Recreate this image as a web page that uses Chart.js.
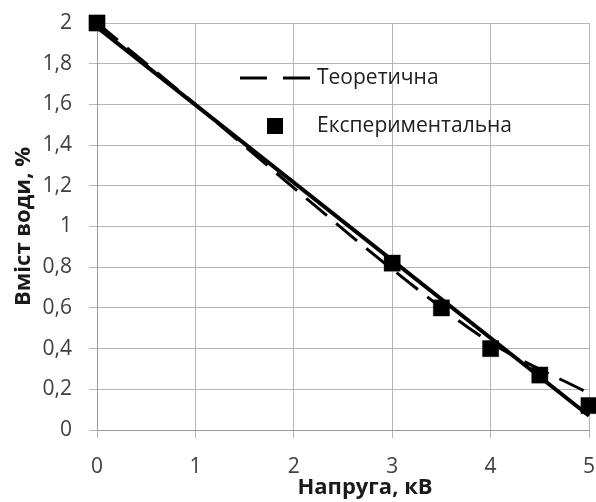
<!DOCTYPE html>
<html>
<head>
<meta charset="utf-8">
<script src="https://cdn.jsdelivr.net/npm/chart.js@4.4.0/dist/chart.umd.min.js"></script>
<style>
  html, body { margin: 0; padding: 0; background: #ffffff; }
  #chart { display: block; }
</style>
</head>
<body>
<canvas id="chart" width="596" height="502"></canvas>
<script>
// data
const expVoltage = [0, 3, 3.5, 4, 4.5, 5];
const expWater = [2.0, 0.82, 0.6, 0.4, 0.27, 0.12];

const theoryVoltage = [0, 1, 2, 3, 4, 5];
const theoryWater = [2.0, 1.6, 1.19, 0.79, 0.43, 0.18];

const trendVoltage = [0, 5];
const trendWater = [1.98, 0.07];

const xTickLabels = ['0', '1', '2', '3', '4', '5'];
const yTickLabels = ['0', '0,2', '0,4', '0,6', '0,8', '1', '1,2', '1,4', '1,6', '1,8', '2'];

const legendNames = ['Теоретична', 'Експериментальна'];
const xTitle = 'Напруга, кВ';
const yTitle = 'Вміст води, %';

const toPoints = (xs, ys) => xs.map((x, i) => ({ x: x, y: ys[i] }));

Chart.defaults.font.family = "'Open Sans', sans-serif";
Chart.defaults.color = '#404040';

const whiteBg = {
    id: 'whiteBg',
    beforeDraw(chart) {
        const ctx = chart.ctx;
        ctx.save();
        ctx.fillStyle = '#ffffff';
        ctx.fillRect(0, 0, chart.width, chart.height);
        ctx.restore();
    }
};

// Excel-like legend inside the plot area, plus the x title (it sits a bit right of centre)
const innerLegend = {
    id: 'innerLegend',
    afterDatasetsDraw(chart) {
        const ctx = chart.ctx;
        const area = chart.chartArea;
        const x0 = area.left + 143;
        const y1 = area.top + 55;
        const y2 = area.top + 103;
        ctx.save();
        ctx.strokeStyle = '#000000';
        ctx.lineWidth = 3;
        ctx.setLineDash([27, 16]);
        ctx.beginPath();
        ctx.moveTo(x0, y1);
        ctx.lineTo(x0 + 72, y1);
        ctx.stroke();
        ctx.setLineDash([]);
        ctx.fillStyle = '#000000';
        ctx.fillRect(x0 + 27, y2 - 8, 16, 16);
        ctx.fillStyle = '#202020';
        ctx.font = "21px 'Open Sans', sans-serif";
        ctx.textBaseline = 'middle';
        ctx.textAlign = 'left';
        ctx.fillText(legendNames[0], x0 + 77, y1);
        ctx.fillText(legendNames[1], x0 + 77, y2);

        ctx.fillStyle = '#1a1a1a';
        ctx.font = "bold 22px 'Open Sans', sans-serif";
        ctx.textAlign = 'center';
        ctx.fillText(xTitle, 365, chart.height - 14);
        ctx.restore();
    }
};

const noPad = (scale) => {
    scale.paddingLeft = 0;
    scale.paddingRight = 0;
    scale.paddingTop = 0;
    scale.paddingBottom = 0;
};

const config = {
    type: 'scatter',
    data: {
        datasets: [
            {
                label: legendNames[1],
                data: toPoints(expVoltage, expWater),
                pointStyle: 'rect',
                pointRadius: 11.5,
                pointHoverRadius: 11.5,
                backgroundColor: '#000000',
                borderColor: 'rgba(0,0,0,0.35)',
                borderWidth: 1,
                showLine: false,
                clip: false,
                order: 0
            },
            {
                label: 'trend',
                data: toPoints(trendVoltage, trendWater),
                showLine: true,
                borderColor: '#000000',
                borderWidth: 4,
                pointRadius: 0,
                clip: false,
                order: 1
            },
            {
                label: legendNames[0],
                data: toPoints(theoryVoltage, theoryWater),
                showLine: true,
                borderColor: '#000000',
                borderWidth: 3,
                borderDash: [27, 12],
                cubicInterpolationMode: 'monotone',
                pointRadius: 0,
                clip: false,
                order: 2
            }
        ]
    },
    options: {
        responsive: false,
        animation: false,
        devicePixelRatio: 1,
        layout: {
            autoPadding: false,
            padding: { top: 23, right: 7, left: 0, bottom: 0 }
        },
        scales: {
            x: {
                type: 'linear',
                min: 0,
                max: 5,
                afterFit: (scale) => { scale.height = 72; noPad(scale); },
                ticks: {
                    stepSize: 1,
                    padding: 16,
                    font: { size: 21 },
                    color: '#404040',
                    callback: (value, index) => xTickLabels[index]
                },
                grid: {
                    color: '#b5b5b5',
                    lineWidth: 1,
                    tickLength: 8
                },
                border: { color: '#999999' }
            },
            y: {
                type: 'linear',
                min: 0,
                max: 2,
                afterFit: (scale) => { scale.width = 97; noPad(scale); },
                ticks: {
                    stepSize: 0.2,
                    padding: 17,
                    font: { size: 21 },
                    color: '#404040',
                    callback: (value, index) => yTickLabels[index]
                },
                grid: {
                    color: '#b5b5b5',
                    lineWidth: 1,
                    tickLength: 8
                },
                border: { color: '#999999' },
                title: {
                    display: true,
                    text: yTitle,
                    color: '#1a1a1a',
                    font: { size: 22, weight: 'bold' },
                    padding: { top: 11, bottom: 0 }
                }
            }
        },
        plugins: {
            legend: { display: false },
            tooltip: { enabled: false }
        }
    },
    plugins: [whiteBg, innerLegend]
};

const chart = new Chart(document.getElementById('chart'), config);
</script>
</body>
</html>
